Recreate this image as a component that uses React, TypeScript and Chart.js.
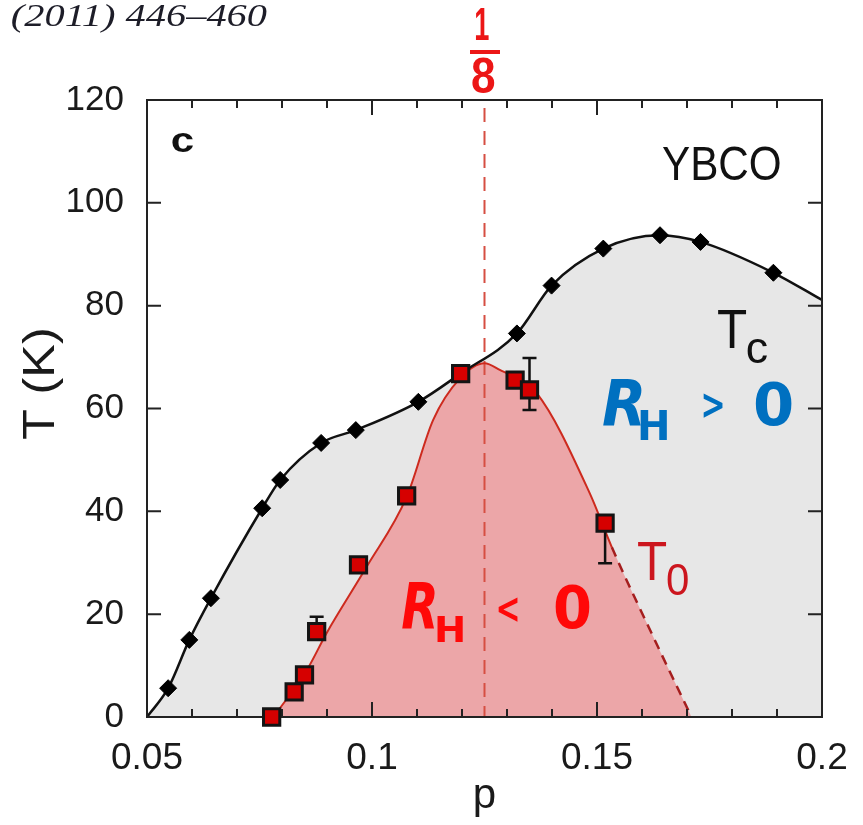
import React, { useEffect, useRef } from 'react';
import { Chart, registerables } from 'chart.js';

Chart.register(...registerables);

// ---- Data ----
// Tc curve (black line through diamonds)
const tcCurveP = [0.05, 0.0547, 0.0594, 0.0642, 0.0756, 0.0796, 0.0887, 0.0964, 0.1103, 0.1197, 0.1322, 0.1399, 0.1514, 0.164, 0.173, 0.1892, 0.2];
const tcCurveT = [0, 5.6, 15.0, 23.1, 40.6, 46.1, 53.3, 55.8, 61.3, 66.8, 74.6, 83.9, 91.1, 93.7, 92.4, 86.4, 81.1];
// Tc data points (black diamonds)
const tcDiamondP = [0.0547, 0.0594, 0.0642, 0.0756, 0.0796, 0.0887, 0.0964, 0.1103, 0.1322, 0.1399, 0.1514, 0.164, 0.173, 0.1892];
const tcDiamondT = [5.6, 15.0, 23.1, 40.6, 46.1, 53.3, 55.8, 61.3, 74.6, 83.9, 91.1, 93.7, 92.4, 86.4];
// T0 curve (red line bounding the pink dome)
const t0CurveP = [0.0781, 0.0855, 0.0899, 0.0988, 0.1077, 0.1136, 0.1196, 0.125, 0.1284, 0.1366, 0.1484, 0.1533, 0.1625, 0.171];
const t0CurveT = [0, 9.1, 16.3, 29.2, 42.8, 57.8, 65.9, 68.8, 67.5, 63.0, 43.5, 33.0, 15.6, 0];
const t0DashFromP = 0.1533;
// T0 data points (red squares) and error bars
const t0SquareP = [0.0777, 0.0827, 0.085, 0.0877, 0.097, 0.1077, 0.1197, 0.1318, 0.135, 0.1518];
const t0SquareT = [0, 4.9, 8.2, 16.6, 29.6, 43.0, 66.8, 65.5, 63.6, 37.7];
const t0ErrLow: (number | null)[] = [null, null, null, 15.5, null, null, null, null, 59.7, 29.9];
const t0ErrHigh: (number | null)[] = [null, null, null, 19.5, null, null, null, null, 69.8, 37.7];
// special doping 1/8
const oneEighth = 0.125;
// tick labels
const xTickValues = [0.05, 0.1, 0.15, 0.2];
const xTickLabels = ['0.05', '0.1', '0.15', '0.2'];
const yTickLabels = ['0', '20', '40', '60', '80', '100', '120'];
const yTitle = 'T (K)';

const toXY = (xs: number[], ys: number[]) => xs.map((x, i) => ({ x, y: ys[i] }));

// draw text so that its ink box fills [x0,x1]x[y0,y1]
function fitText(ctx: CanvasRenderingContext2D, s: string, font: string, color: string, x0: number, y0: number, x1: number, y1: number) {
  ctx.save();
  ctx.font = font;
  ctx.fillStyle = color;
  ctx.textAlign = 'left';
  ctx.textBaseline = 'alphabetic';
  const m = ctx.measureText(s);
  const w = m.actualBoundingBoxLeft + m.actualBoundingBoxRight;
  const h = m.actualBoundingBoxAscent + m.actualBoundingBoxDescent;
  const sx = (x1 - x0) / w;
  const sy = (y1 - y0) / h;
  ctx.translate(x0 + m.actualBoundingBoxLeft * sx, y0 + m.actualBoundingBoxAscent * sy);
  ctx.scale(sx, sy);
  ctx.fillText(s, 0, 0);
  ctx.restore();
}

// rotated (-90deg) text whose ink box fills [x0,x1]x[y0,y1] on screen
function fitTextUp(ctx: CanvasRenderingContext2D, s: string, font: string, color: string, x0: number, y0: number, x1: number, y1: number) {
  ctx.save();
  ctx.font = font;
  ctx.fillStyle = color;
  ctx.textAlign = 'left';
  ctx.textBaseline = 'alphabetic';
  const m = ctx.measureText(s);
  const w = m.actualBoundingBoxLeft + m.actualBoundingBoxRight;
  const h = m.actualBoundingBoxAscent + m.actualBoundingBoxDescent;
  const sAlong = (y1 - y0) / w;
  const sAcross = (x1 - x0) / h;
  ctx.translate(x0 + m.actualBoundingBoxAscent * sAcross, y1 - m.actualBoundingBoxLeft * sAlong);
  ctx.rotate(-Math.PI / 2);
  ctx.scale(sAlong, sAcross);
  ctx.fillText(s, 0, 0);
  ctx.restore();
}

const overlay = {
  id: 'overlay',
  afterDatasetDraw(chart: any, args: any) {
    const ctx: CanvasRenderingContext2D = chart.ctx;
    const xs = chart.scales.x;
    const ys = chart.scales.y;
    const ca = chart.chartArea;
    if (args.index === 4) {
      // vertical dashed line at p = 1/8 (over the fills)
      const px = xs.getPixelForValue(oneEighth);
      ctx.save();
      ctx.strokeStyle = 'rgb(214,78,66)';
      ctx.lineWidth = 2;
      ctx.setLineDash([14, 9]);
      ctx.beginPath();
      ctx.moveTo(px, ca.top + 8);
      ctx.lineTo(px, ca.bottom);
      ctx.stroke();
      ctx.restore();
    }
    if (args.index === 2) {
      // frame + inward ticks
      ctx.save();
      ctx.strokeStyle = '#222';
      ctx.lineWidth = 2;
      ctx.strokeRect(ca.left, ca.top, ca.right - ca.left, ca.bottom - ca.top);
      ctx.beginPath();
      xs.ticks.forEach((t: any) => {
        const v = t.value;
        const px = xs.getPixelForValue(v);
        if (px <= ca.left + 1 || px >= ca.right - 1) return;
        const major = Math.abs(v * 20 - Math.round(v * 20)) < 1e-6;
        const len = major ? 15 : 8;
        ctx.moveTo(px, ca.bottom);
        ctx.lineTo(px, ca.bottom - len);
        ctx.moveTo(px, ca.top);
        ctx.lineTo(px, ca.top + len);
      });
      ys.ticks.forEach((t: any) => {
        const py = ys.getPixelForValue(t.value);
        if (py <= ca.top + 1 || py >= ca.bottom - 1) return;
        ctx.moveTo(ca.left, py);
        ctx.lineTo(ca.left + 14, py);
        ctx.moveTo(ca.right, py);
        ctx.lineTo(ca.right - 14, py);
      });
      ctx.stroke();
      ctx.restore();
    }
    if (args.index === 1) {
      // error bars (under the red squares)
      ctx.save();
      ctx.strokeStyle = '#111';
      ctx.lineWidth = 2.5;
      ctx.beginPath();
      t0SquareP.forEach((p, i) => {
        const lo = t0ErrLow[i];
        const hi = t0ErrHigh[i];
        if (lo == null || hi == null) return;
        const px = xs.getPixelForValue(p);
        const y1 = ys.getPixelForValue(lo);
        const y2 = ys.getPixelForValue(hi);
        ctx.moveTo(px, y1);
        ctx.lineTo(px, y2);
        ctx.moveTo(px - 7, y1);
        ctx.lineTo(px + 7, y1);
        ctx.moveTo(px - 7, y2);
        ctx.lineTo(px + 7, y2);
      });
      ctx.stroke();
      ctx.restore();
    }
  },
  afterDraw(chart: any) {
    const ctx: CanvasRenderingContext2D = chart.ctx;
    const sans = "'Liberation Sans', Arial, sans-serif";
    const round = "'DejaVu Sans', sans-serif";
    // y axis title
    fitTextUp(ctx, yTitle, `40px ${sans}`, '#1a1a1a', 20, 330, 63, 440);
    // citation fragment
    fitText(ctx, '(2011) 446\u2013460', "italic 34px 'Liberation Serif', serif", '#1d1d28', 12, 3, 267, 33);
    // 1/8 label
    const red = 'rgb(236,22,22)';
    fitText(ctx, '1', `bold 48px ${sans}`, red, 476, 8, 489, 40);
    ctx.save();
    ctx.fillStyle = red;
    ctx.fillRect(470, 50, 30, 4);
    ctx.restore();
    fitText(ctx, '8', `bold 48px ${sans}`, red, 472, 57, 495, 93);
    // panel letter & material
    fitText(ctx, 'c', `bold 36px ${sans}`, '#111', 172, 133, 193, 152);
    fitText(ctx, 'YBCO', `42px ${sans}`, '#111', 662, 147, 780, 180);
    // Tc
    fitText(ctx, 'T', `46px ${sans}`, '#111', 718, 310, 747, 348);
    fitText(ctx, 'c', `38px ${sans}`, '#111', 747, 338, 767, 363);
    // RH > 0
    const blue = 'rgb(0,112,192)';
    fitText(ctx, 'R', `italic bold 56px ${round}`, blue, 603, 380, 642, 427);
    fitText(ctx, 'H', `bold 40px ${round}`, blue, 640, 410, 667, 440);
    fitText(ctx, '>', `bold 36px ${round}`, blue, 703, 393, 723, 418);
    fitText(ctx, '0', `bold 56px ${round}`, blue, 755, 382, 792, 427);
    // RH < 0
    const red2 = 'rgb(255,8,8)';
    fitText(ctx, 'R', `italic bold 56px ${round}`, red2, 402, 583, 435, 630);
    fitText(ctx, 'H', `bold 40px ${round}`, red2, 437, 615, 463, 642);
    fitText(ctx, '<', `bold 36px ${round}`, red2, 498, 597, 518, 622);
    fitText(ctx, '0', `bold 56px ${round}`, red2, 555, 585, 590, 630);
    // T0
    const dred = 'rgb(204,22,30)';
    fitText(ctx, 'T', `46px ${sans}`, dred, 638, 542, 667, 580);
    fitText(ctx, '0', `38px ${sans}`, dred, 667, 563, 688, 595);
  },
};

export default function App() {
  const ref = useRef<HTMLCanvasElement | null>(null);
  useEffect(() => {
    if (!ref.current) return;
    const sans = "'Liberation Sans', Arial, sans-serif";
    const isDash = (c: any) => c.p0.parsed.x >= t0DashFromP - 1e-6;
    const chart = new Chart(ref.current, {
      type: 'line',
      data: {
        datasets: [
          {
            label: 'T0 data',
            data: toXY(t0SquareP, t0SquareT),
            showLine: false,
            pointStyle: 'rect',
            pointRadius: 11.5,
            pointBackgroundColor: 'rgb(214,0,0)',
            pointBorderColor: '#141414',
            pointBorderWidth: 3,
            clip: false,
          } as any,
          {
            label: 'Tc data',
            data: toXY(tcDiamondP, tcDiamondT),
            showLine: false,
            pointStyle: 'rectRot',
            pointRadius: 8.5,
            pointBackgroundColor: '#000',
            pointBorderColor: '#000',
            pointBorderWidth: 1,
            clip: false,
          } as any,
          {
            label: 'Tc line',
            data: toXY(tcCurveP, tcCurveT),
            borderColor: '#111',
            borderWidth: 2.5,
            pointRadius: 0,
            cubicInterpolationMode: 'monotone',
            fill: false,
          },
          {
            label: 'T0 line',
            data: toXY(t0CurveP, t0CurveT),
            borderColor: 'rgb(205,42,30)',
            borderWidth: 2,
            pointRadius: 0,
            cubicInterpolationMode: 'monotone',
            fill: false,
            segment: {
              borderDash: (c: any) => (isDash(c) ? [10, 7] : undefined),
              borderColor: (c: any) => (isDash(c) ? 'rgb(165,30,30)' : undefined),
              borderWidth: (c: any) => (isDash(c) ? 2.5 : undefined),
            },
          } as any,
          {
            label: 'T0 area',
            data: toXY(t0CurveP, t0CurveT),
            borderWidth: 0,
            borderColor: 'rgba(0,0,0,0)',
            pointRadius: 0,
            cubicInterpolationMode: 'monotone',
            fill: 'origin',
            backgroundColor: 'rgb(236,166,168)',
          },
          {
            label: 'Tc area',
            data: toXY(tcCurveP, tcCurveT),
            borderWidth: 0,
            borderColor: 'rgba(0,0,0,0)',
            pointRadius: 0,
            cubicInterpolationMode: 'monotone',
            fill: 'origin',
            backgroundColor: 'rgb(231,231,231)',
          },
        ],
      },
      options: {
        responsive: false,
        animation: false,
        layout: { padding: { left: 0, top: 100, right: 41, bottom: 0 } },
        plugins: { legend: { display: false }, tooltip: { enabled: false } },
        scales: {
          x: {
            type: 'linear',
            min: 0.05,
            max: 0.2,
            grid: { display: false, drawTicks: false, tickLength: 0 },
            border: { display: false },
            ticks: {
              stepSize: 0.01,
              autoSkip: false,
              maxRotation: 0,
              padding: 20,
              color: '#1a1a1a',
              font: { family: sans, size: 37 },
              callback: (v: any) => {
                const i = xTickValues.findIndex((t) => Math.abs(t - Number(v)) < 1e-6);
                return i >= 0 ? xTickLabels[i] : '';
              },
            },
            title: { display: true, text: 'p', color: '#1a1a1a', font: { family: sans, size: 42 }, padding: { top: 0, bottom: 3 } },
            afterFit: (s: any) => { s.height = 108; s.paddingLeft = 0; s.paddingRight = 0; },
          },
          y: {
            type: 'linear',
            min: 0,
            max: 120,
            grid: { display: false, drawTicks: false, tickLength: 0 },
            border: { display: false },
            ticks: {
              stepSize: 20,
              padding: 23,
              color: '#1a1a1a',
              font: { family: sans, size: 35 },
              callback: (v: any, i: number) => yTickLabels[i] ?? String(v),
            },
            title: { display: false, text: yTitle },
            afterFit: (s: any) => { s.width = 147; s.paddingTop = 0; s.paddingBottom = 0; },
          },
        },
      } as any,
      plugins: [overlay],
    });
    return () => chart.destroy();
  }, []);
  return (
    <div style={{ position: 'fixed', left: 0, top: 0, width: 863, height: 825, background: '#fff' }}>
      <canvas ref={ref} width={863} height={825} style={{ position: 'absolute', left: 0, top: 0, width: 863, height: 825 }} />
    </div>
  );
}
